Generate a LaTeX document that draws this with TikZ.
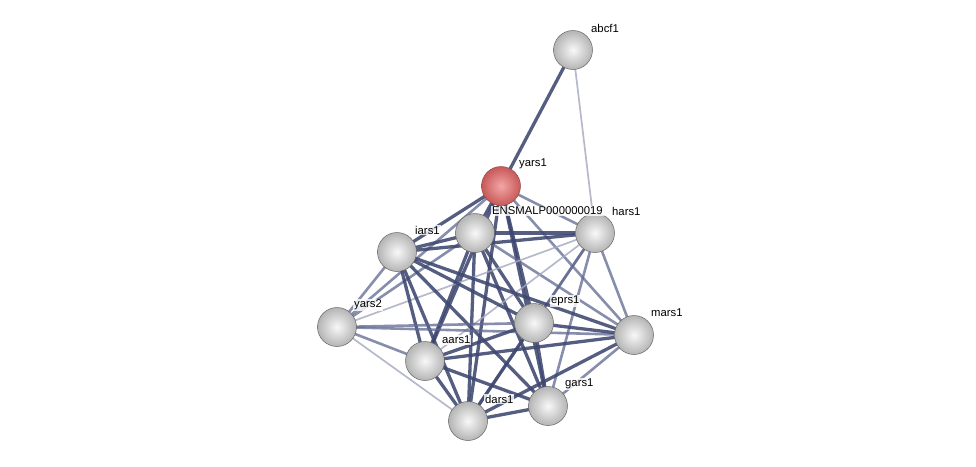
\documentclass[tikz,border=0pt]{standalone}
\usepackage{fontspec}
\setmainfont{Liberation Sans}
\definecolor{edgeS}{HTML}{3E4770}
\definecolor{edgeM}{HTML}{5F6890}
\definecolor{edgeW}{HTML}{A3A8BE}
\definecolor{sphin}{HTML}{F8F8F8}
\definecolor{sphout}{HTML}{B4B4B4}
\definecolor{redin}{HTML}{F2A6A6}
\definecolor{redout}{HTML}{C85858}
\tikzset{
  prot/.style={circle, minimum size=39pt, inner sep=0pt, shading=radial, inner color=sphin, outer color=sphout, draw=gray!80!black, line width=0.5pt},
  protred/.style={prot, inner color=redin, outer color=redout, draw=red!40!black!70},
  lbl/.style={font=\fontsize{11.3}{13}\selectfont, anchor=west, inner sep=1pt, fill=white, fill opacity=0.8, text opacity=1},
  es/.style={draw=edgeS, line width=3.3pt, opacity=0.88},
  em/.style={draw=edgeM, line width=2.6pt, opacity=0.75},
  ew/.style={draw=edgeW, line width=1.7pt, opacity=0.8}
}
\begin{document}
\begin{tikzpicture}[x=1pt,y=-1pt]
\useasboundingbox (0,0) rectangle (976,466);
% coordinates
\coordinate (cB) at (573,50);
\coordinate (cY) at (501,186);
\coordinate (cE) at (475,233);
\coordinate (cH) at (595,233);
\coordinate (cI) at (397,252);
\coordinate (cY2) at (337,327);
\coordinate (cP) at (534,323);
\coordinate (cM) at (634,335);
\coordinate (cA) at (425,361);
\coordinate (cG) at (548,406);
\coordinate (cD) at (468,421);
% edges
\draw[es] (cB) -- (cY);
\draw[ew] (cB) -- (cH);
\draw[es] (cY) -- (cE);
\draw[em] (cY) -- (cH);
\draw[es] (cY) -- (cI);
\draw[em] (cY) -- (cY2);
\draw[es] (cY) -- (cP);
\draw[em] (cY) -- (cM);
\draw[es] (cY) -- (cA);
\draw[es] (cY) -- (cG);
\draw[es] (cY) -- (cD);
\draw[es] (cE) -- (cH);
\draw[es] (cE) -- (cI);
\draw[em] (cE) -- (cY2);
\draw[es] (cE) -- (cP);
\draw[em] (cE) -- (cM);
\draw[es] (cE) -- (cA);
\draw[es] (cE) -- (cG);
\draw[es] (cE) -- (cD);
\draw[es] (cH) -- (cI);
\draw[ew] (cH) -- (cY2);
\draw[em] (cH) -- (cP);
\draw[em] (cH) -- (cM);
\draw[ew] (cH) -- (cA);
\draw[em] (cH) -- (cG);
\draw[em] (cH) -- (cD);
\draw[em] (cI) -- (cY2);
\draw[es] (cI) -- (cP);
\draw[es] (cI) -- (cM);
\draw[es] (cI) -- (cA);
\draw[es] (cI) -- (cG);
\draw[es] (cI) -- (cD);
\draw[em] (cY2) -- (cP);
\draw[em] (cY2) -- (cM);
\draw[em] (cY2) -- (cA);
\draw[ew] (cY2) -- (cD);
\draw[es] (cP) -- (cM);
\draw[es] (cP) -- (cA);
\draw[es] (cP) -- (cG);
\draw[es] (cP) -- (cD);
\draw[es] (cM) -- (cA);
\draw[em] (cM) -- (cG);
\draw[es] (cM) -- (cD);
\draw[es] (cA) -- (cG);
\draw[es] (cA) -- (cD);
\draw[es] (cG) -- (cD);
% nodes
\node[prot] (B) at (cB) {};
\node[protred] (Y) at (cY) {};
\node[prot] (E) at (cE) {};
\node[prot] (H) at (cH) {};
\node[prot] (I) at (cI) {};
\node[prot] (Y2) at (cY2) {};
\node[prot] (P) at (cP) {};
\node[prot] (M) at (cM) {};
\node[prot] (A) at (cA) {};
\node[prot] (G) at (cG) {};
\node[prot] (D) at (cD) {};
% labels
\node[lbl] (lB) at (590,28) {abcf1};
\node[lbl] (lY) at (518,164) {yars1};
\node[lbl] (lE) at (491,211) {ENSMALP000000019};
\node[lbl] (lH) at (611,211) {hars1};
\node[lbl] (lI) at (414,230) {iars1};
\node[lbl] (lY2) at (353,305) {yars2};
\node[lbl] (lP) at (550,301) {eprs1};
\node[lbl] (lM) at (650,313) {mars1};
\node[lbl] (lA) at (441,340) {aars1};
\node[lbl] (lG) at (564,384) {gars1};
\node[lbl] (lD) at (484,399) {dars1};
\end{tikzpicture}
\end{document}
